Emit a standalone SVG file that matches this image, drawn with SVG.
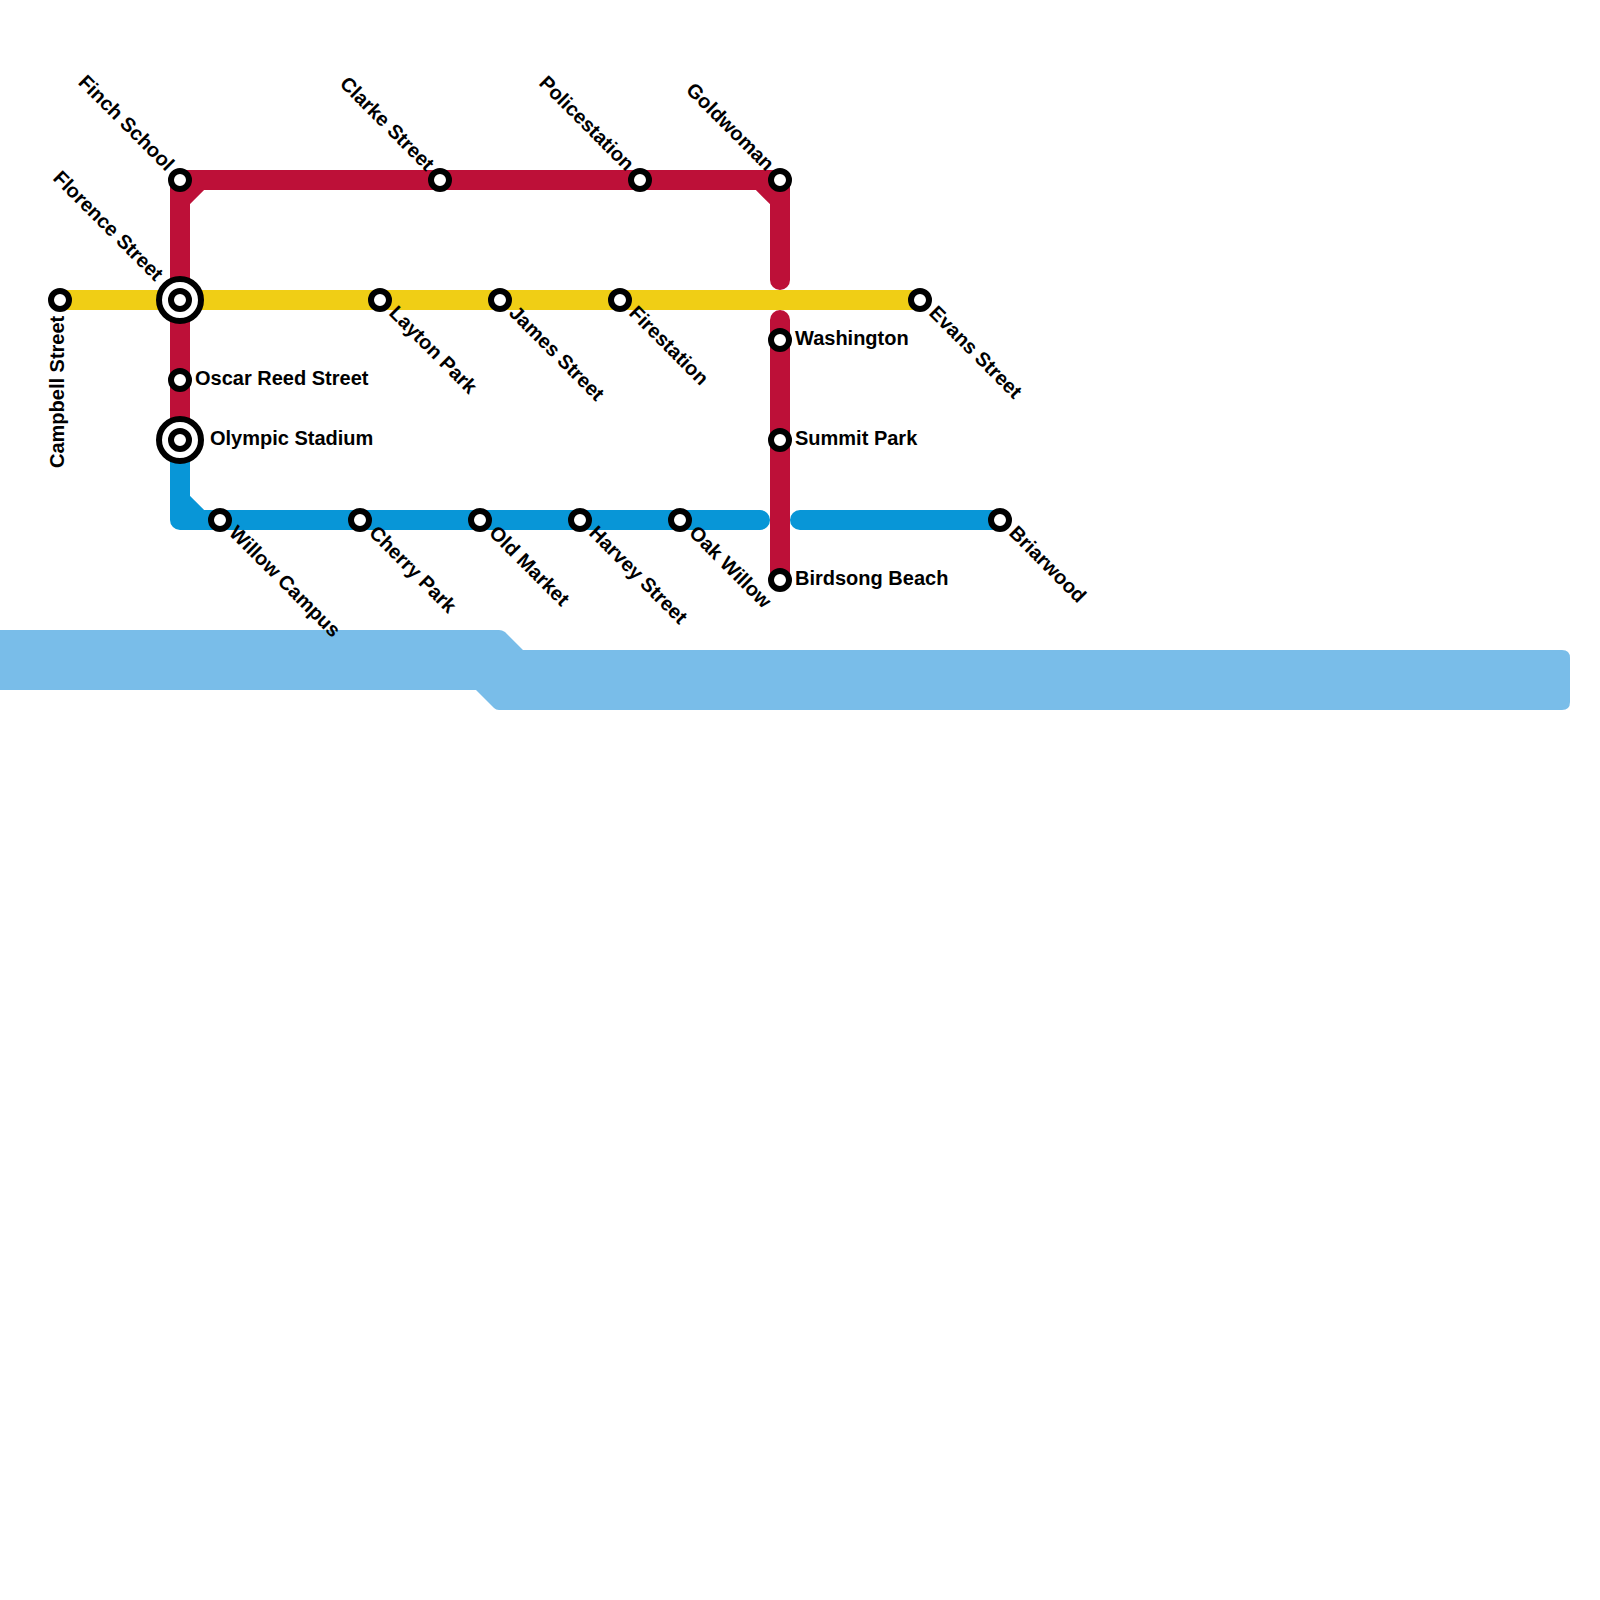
<svg xmlns="http://www.w3.org/2000/svg" width="1600" height="1600" viewBox="0 0 1600 1600">
<style>
.l{fill:none;stroke-width:20;stroke-linecap:round;stroke-linejoin:round}
.red{stroke:#bd1038}.yel{stroke:#f0ce15}.blu{stroke:#0896d7}
.wat{fill:#79bde9}
.s circle{fill:#fff;stroke:#000;stroke-width:6}
text{font-family:"Liberation Sans",Arial,sans-serif;font-weight:700;font-size:20px;fill:#000}
</style>
<g id="connectors">
<path class="wat" d="M-10,630H499Q502,630 505,632L523,650H1562Q1570,650 1570,658V702Q1570,710 1562,710H499Q496,710 494,708L476,690H-10Z"/>
<path class="l red" d="M180,440V180H780V280M180,200L200,180M760,180L780,200M780,320V580"/>
<path class="l blu" d="M180,440V520H760M180,500L200,520M800,520H1000"/>
<path class="l yel" d="M60,300H920"/>
</g>
<g id="campbell-street" class="s"><circle cx="60" cy="300" r="9"/><text transform="translate(64,468) rotate(-90)">Campbell Street</text></g>
<g id="finch-school" class="s"><circle cx="180" cy="180" r="9"/><text text-anchor="end" transform="translate(166,172) rotate(45)">Finch School</text></g>
<g id="florence-street" class="s"><circle cx="180" cy="300" r="21"/><circle cx="180" cy="300" r="9"/><text text-anchor="end" transform="translate(155,282) rotate(45)">Florence Street</text></g>
<g id="oscar-reed-street" class="s"><circle cx="180" cy="380" r="9"/><text x="195" y="385">Oscar Reed Street</text></g>
<g id="olympic-stadium" class="s"><circle cx="180" cy="440" r="21"/><circle cx="180" cy="440" r="9"/><text x="210" y="445">Olympic Stadium</text></g>
<g id="clarke-street" class="s"><circle cx="440" cy="180" r="9"/><text text-anchor="end" transform="translate(426,172) rotate(45)">Clarke Street</text></g>
<g id="policestation" class="s"><circle cx="640" cy="180" r="9"/><text text-anchor="end" transform="translate(626,172) rotate(45)">Policestation</text></g>
<g id="goldwoman" class="s"><circle cx="780" cy="180" r="9"/><text text-anchor="end" transform="translate(766,172) rotate(45)">Goldwoman</text></g>
<g id="layton-park" class="s"><circle cx="380" cy="300" r="9"/><text transform="translate(388,314) rotate(45)">Layton Park</text></g>
<g id="james-street" class="s"><circle cx="500" cy="300" r="9"/><text transform="translate(508,314) rotate(45)">James Street</text></g>
<g id="firestation" class="s"><circle cx="620" cy="300" r="9"/><text transform="translate(628,314) rotate(45)">Firestation</text></g>
<g id="evans-street" class="s"><circle cx="920" cy="300" r="9"/><text transform="translate(928,314) rotate(45)">Evans Street</text></g>
<g id="washington" class="s"><circle cx="780" cy="340" r="9"/><text x="795" y="345">Washington</text></g>
<g id="summit-park" class="s"><circle cx="780" cy="440" r="9"/><text x="795" y="445">Summit Park</text></g>
<g id="birdsong-beach" class="s"><circle cx="780" cy="580" r="9"/><text x="795" y="585">Birdsong Beach</text></g>
<g id="willow-campus" class="s"><circle cx="220" cy="520" r="9"/><text transform="translate(228,534) rotate(45)">Willow Campus</text></g>
<g id="cherry-park" class="s"><circle cx="360" cy="520" r="9"/><text transform="translate(368,534) rotate(45)">Cherry Park</text></g>
<g id="old-market" class="s"><circle cx="480" cy="520" r="9"/><text transform="translate(488,534) rotate(45)">Old Market</text></g>
<g id="harvey-street" class="s"><circle cx="580" cy="520" r="9"/><text transform="translate(588,534) rotate(45)">Harvey Street</text></g>
<g id="oak-willow" class="s"><circle cx="680" cy="520" r="9"/><text transform="translate(688,534) rotate(45)">Oak Willow</text></g>
<g id="briarwood" class="s"><circle cx="1000" cy="520" r="9"/><text transform="translate(1008,534) rotate(45)">Briarwood</text></g>
</svg>
